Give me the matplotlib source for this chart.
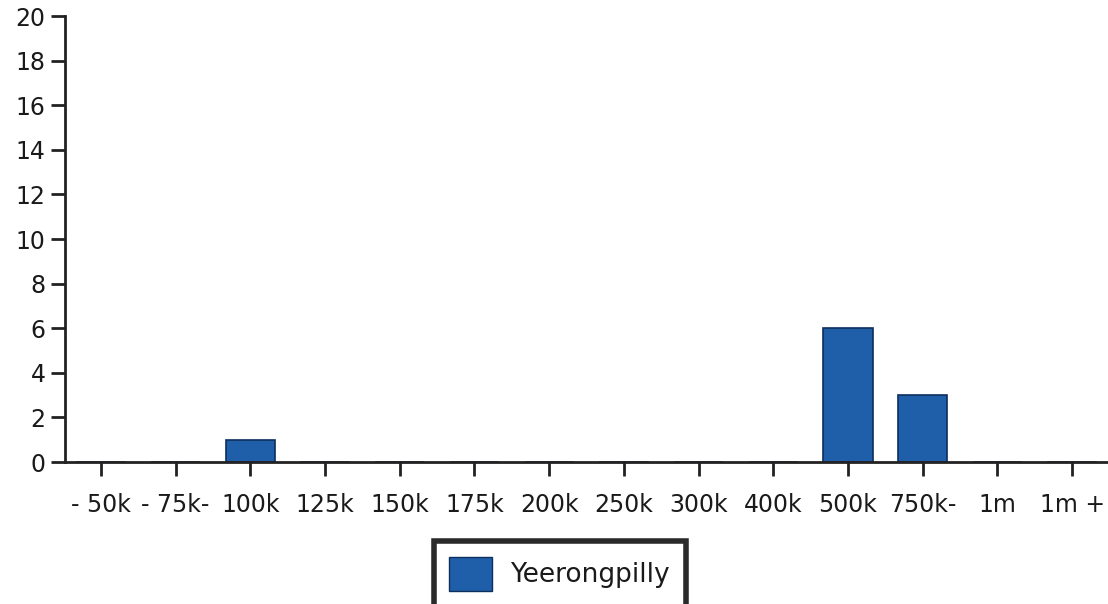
import matplotlib
matplotlib.use("Agg")
import matplotlib.pyplot as plt
from matplotlib.patches import Patch

categories = ["- 50k", "- 75k-", "100k", "125k", "150k", "175k", "200k",
              "250k", "300k", "400k", "500k", "750k-", "1m", "1m +"]
values = [0, 0, 1, 0, 0, 0, 0, 0, 0, 0, 6, 3, 0, 0]
series_name = "Yeerongpilly"
yticks = list(range(0, 21, 2))

bar_color = "#1f5ea8"
text_color = "#1a1a1a"

fig = plt.figure(figsize=(11.08, 6.04), dpi=100)
ax = fig.add_axes([0.0587, 0.235, 0.9413, 0.7385])

x = list(range(len(categories)))
ax.bar(x, values, width=0.66, color=bar_color, edgecolor="#0d2f5c", linewidth=1.2)

ax.set_xlim(-0.48, 13.48)
ax.set_ylim(0, 20)
ax.set_yticks(yticks)
ax.set_xticks(x)
ax.set_xticklabels(categories)

for s in ["top", "right"]:
    ax.spines[s].set_visible(False)
for s in ["left", "bottom"]:
    ax.spines[s].set_linewidth(2)
    ax.spines[s].set_color("#222222")

ax.tick_params(axis="both", labelsize=17, colors="#222222", labelcolor=text_color,
               width=2, length=10, direction="out")
ax.tick_params(axis="x", pad=12)
ax.tick_params(axis="y", pad=4)

leg = fig.legend(handles=[Patch(facecolor=bar_color, edgecolor="#0d2f5c", label=series_name)],
                 loc="center", bbox_to_anchor=(0.505, 0.05), fontsize=19,
                 frameon=True, fancybox=False, framealpha=1.0,
                 handlelength=1.6, handleheight=1.6,
                 borderpad=0.6, handletextpad=0.7, borderaxespad=0)
for t in leg.get_texts():
    t.set_color(text_color)
frame = leg.get_frame()
frame.set_edgecolor("#2a2a2a")
frame.set_linewidth(4)

fig.savefig("out.png", dpi=100)
